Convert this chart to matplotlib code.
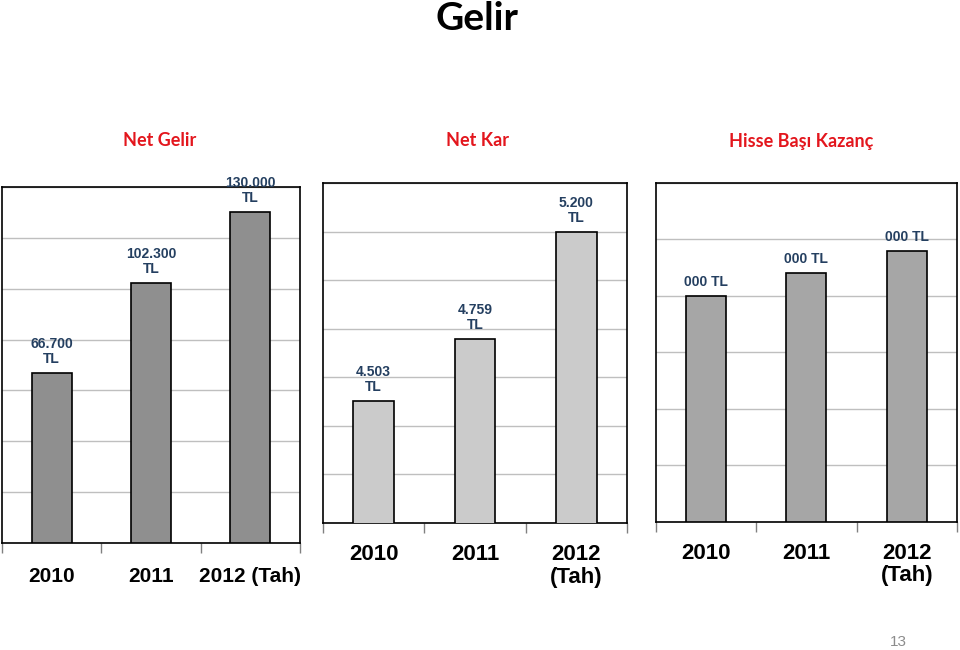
import matplotlib
matplotlib.use("Agg")
import matplotlib.pyplot as plt

"""
Gelir slide: three small bar charts side by side.
"""

YEARS = ['2010', '2011', '2012 (Tah)']
YEARS_WRAPPED = ['2010', '2011', '2012\n(Tah)']

net_gelir = [66700, 102300, 130000]
net_gelir_labels = ['66.700\nTL', '102.300\nTL', '130.000\nTL']

net_kar = [4503, 4759, 5200]
net_kar_labels = ['4.503\nTL', '4.759\nTL', '5.200\nTL']

hbk = [1.00, 1.10, 1.20]
hbk_labels = ['000 TL', '000 TL', '000 TL']

LABEL_BLUE = '#243F60'
SUB_RED = '#E3161D'

plt.rc('font', family=['Liberation Sans', 'DejaVu Sans'])

fig = plt.figure(figsize=(9.6, 6.5), dpi=100)


def bar_panel(rect, values, labels, cats, color, ylim, step, xfont, pad):
    ax = fig.add_axes(rect)
    x = range(len(values))
    ax.bar(x, values, width=0.4, color=color, edgecolor='black',
           linewidth=1.2, zorder=3)
    ax.set_xlim(-0.5, len(values) - 0.5)
    ax.set_ylim(*ylim)
    ticks = []
    t = ylim[0]
    while t <= ylim[1] + 1e-9:
        ticks.append(t)
        t += step
    ax.set_yticks(ticks)
    ax.yaxis.grid(True, color='#BFBFBF', linewidth=1.0, zorder=0)
    ax.tick_params(axis='y', length=0, labelleft=False)
    # category labels in the middle, tick marks on the boundaries
    ax.set_xticks(list(x))
    ax.set_xticklabels(cats, fontsize=xfont, fontweight='bold',
                       linespacing=1.12)
    ax.tick_params(axis='x', which='major', length=0, pad=pad)
    ax.set_xticks([i - 0.5 for i in range(len(values) + 1)], minor=True)
    ax.tick_params(axis='x', which='minor', length=7, color='#808080',
                   width=1.0)
    for s in ax.spines.values():
        s.set_color('black')
        s.set_linewidth(1.2)
    for xi, v, lab in zip(x, values, labels):
        ax.annotate(lab, (xi, v), xytext=(0, 5), textcoords='offset points',
                    ha='center', va='bottom', fontsize=10, fontweight='bold',
                    color=LABEL_BLUE, linespacing=1.1, annotation_clip=False,
                    zorder=5)
    return ax


bar_panel([0.0021, 0.1646, 0.3104, 0.5477], net_gelir, net_gelir_labels,
          YEARS, '#8F8F8F', (0, 140000), 20000, 15, 17)
bar_panel([0.3365, 0.1954, 0.3167, 0.5231], net_kar, net_kar_labels,
          YEARS_WRAPPED, '#CBCBCB', (4000, 5400), 200, 16, 15)
bar_panel([0.6830, 0.1974, 0.3139, 0.5211], hbk, hbk_labels,
          YEARS_WRAPPED, '#A6A6A6', (0, 1.5), 0.25, 16, 15)

fig.text(0.497, 1 - 19 / 650, 'Gelir', ha='center', va='center',
         fontsize=28, fontweight='bold', family=['Lato', 'DejaVu Sans'])
for xc, txt in [(160, 'Net Gelir'), (477, 'Net Kar'), (801, 'Hisse Başı Kazanç')]:
    fig.text(xc / 960, 1 - 141 / 650, txt, ha='center', va='center',
             fontsize=13, fontweight='bold', color=SUB_RED,
             family=['Lato', 'DejaVu Sans'])
fig.text(898 / 960, 1 - 642 / 650, '13', ha='center', va='center',
         fontsize=11, color='#8C8C8C')

fig.savefig('out.png', dpi=100)
